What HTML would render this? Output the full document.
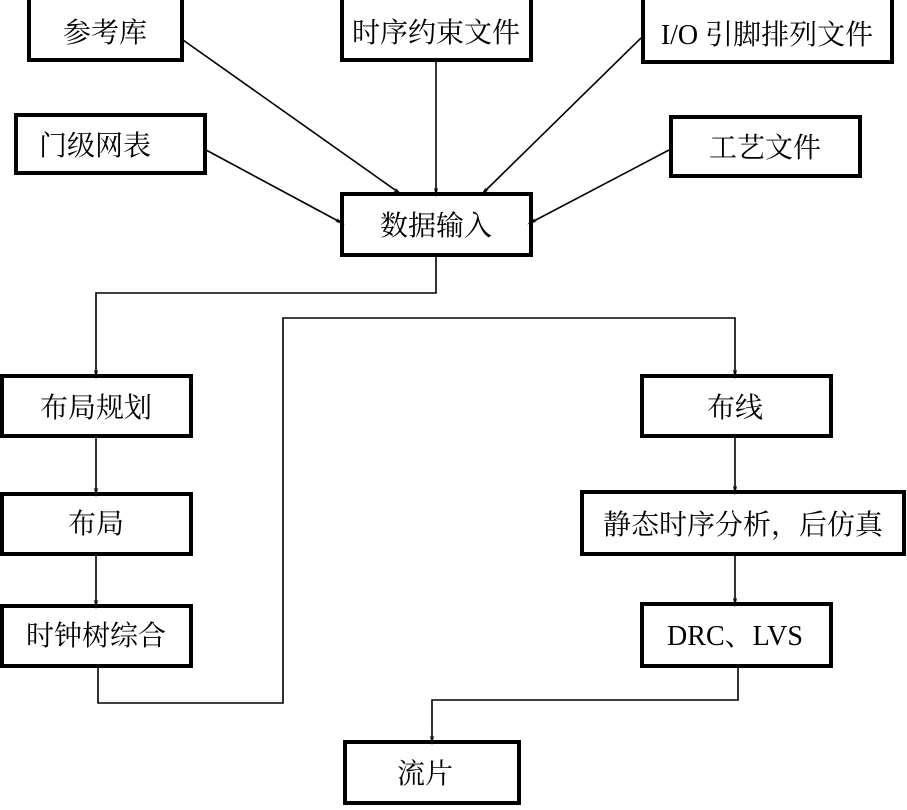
<!DOCTYPE html>
<html><head><meta charset="utf-8"><style>
html,body{margin:0;padding:0;background:#fff}
svg text{font-family:"Liberation Serif","Noto Serif CJK SC",serif;font-size:28px;fill:#000}
</style></head><body>
<svg width="907" height="805" viewBox="0 0 907 805" xmlns="http://www.w3.org/2000/svg">
<defs><marker id="a" markerWidth="10" markerHeight="22" refX="9" refY="5" orient="auto" markerUnits="userSpaceOnUse" viewBox="0 0 20 10"><path d="M0,1 L20,5 L0,9 L5,5 Z" fill="#000"/></marker></defs>
<g fill="#fff" stroke="#000" stroke-width="4">
<rect x="29" y="-4" width="153" height="64"/>
<rect x="342" y="-4" width="189" height="64"/>
<rect x="643" y="-4" width="249" height="66"/>
<rect x="16" y="115" width="189" height="58"/>
<rect x="671" y="117" width="189" height="59"/>
<rect x="342" y="194" width="189" height="61"/>
<rect x="2" y="376" width="189" height="60"/>
<rect x="2" y="494" width="189" height="60"/>
<rect x="2" y="606" width="189" height="60"/>
<rect x="642" y="376" width="189" height="60"/>
<rect x="582" y="492" width="322" height="62"/>
<rect x="642" y="604" width="189" height="62"/>
<rect x="345" y="742" width="174" height="61"/>
</g>
<g stroke="#000" stroke-width="1.6" fill="none" marker-end="url(#a)">
<line x1="183" y1="40" x2="398" y2="192"/>
<line x1="436" y1="60" x2="436" y2="192"/>
<line x1="641" y1="38" x2="484" y2="192"/>
<line x1="206" y1="150" x2="340" y2="222"/>
<line x1="669" y1="150" x2="532" y2="222"/>
<polyline points="436,256 436,293 96,293 96,374"/>
<line x1="96" y1="436" x2="96" y2="492"/>
<line x1="96" y1="554" x2="96" y2="604"/>
<polyline points="98,666 98,703 283,703 283,318 735,318 735,374"/>
<line x1="735" y1="436" x2="735" y2="490"/>
<line x1="735" y1="554" x2="735" y2="602"/>
<polyline points="738,666 738,700 432,700 432,740"/>
</g>
<g text-anchor="middle">
<text x="105" y="42">参考库</text>
<text x="436" y="42">时序约束文件</text>
<text x="767" y="44">I/O 引脚排列文件</text>
<text x="95" y="155">门级网表</text>
<text x="765" y="157">工艺文件</text>
<text x="436" y="235">数据输入</text>
<text x="96" y="417">布局规划</text>
<text x="96" y="533">布局</text>
<text x="96" y="645">时钟树综合</text>
<text x="735" y="417">布线</text>
<text x="743" y="534">静态时序分析，后仿真</text>
<text x="735" y="645">DRC、LVS</text>
<text x="425" y="783">流片</text>
</g>
</svg>
</body></html>
